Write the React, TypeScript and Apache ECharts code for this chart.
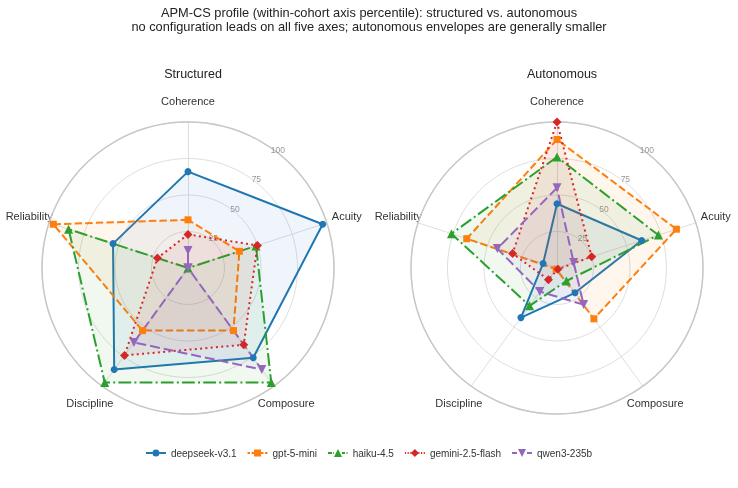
import React, { useEffect, useRef } from "react";
import * as echarts from "echarts";

const axesClockwise = ["Coherence", "Acuity", "Composure", "Discipline", "Reliability"];
const radialTicks = [25, 50, 75, 100];
const models = ["deepseek-v3.1", "gpt-5-mini", "haiku-4.5", "gemini-2.5-flash", "qwen3-235b"];
const panelTitles = ["Structured", "Autonomous"];

// values in clockwise axis order: Coherence, Acuity, Composure, Discipline, Reliability
const structuredDeepseek = [66, 97, 76, 86, 54];
const structuredGpt = [33, 37, 53, 53, 97];
const structuredHaiku = [0, 49, 97, 97, 86];
const structuredGemini = [23, 50, 65, 74, 22];
const structuredQwen = [12, 0, 86, 63, 0];

const autonomousDeepseek = [44, 61, 21, 42, 10];
const autonomousGpt = [88, 86, 43, 1, 65];
const autonomousHaiku = [76, 73, 11, 32, 76];
const autonomousGemini = [100, 25, 1, 10, 32];
const autonomousQwen = [55, 12, 31, 20, 43];

const structured = [structuredDeepseek, structuredGpt, structuredHaiku, structuredGemini, structuredQwen];
const autonomous = [autonomousDeepseek, autonomousGpt, autonomousHaiku, autonomousGemini, autonomousQwen];

const colors = ["#1f77b4", "#ff7f0e", "#2ca02c", "#d62728", "#9467bd"];
const dashes: any[] = ["solid", [7.4, 3.2], [12.8, 3.2, 2, 3.2], [2, 3.3], [10, 4]];
const symbols = ["circle", "rect", "triangle", "diamond", "path://M0,0 L10,0 L5,9 Z"];
const symbolSizes = [7, 7, 9, 9, 9];

// legend icons (20 x 8 box)
const seg = (a: number, b: number) => `M${a} 3.1 H${b} V4.9 H${a} Z `;
const legendMarkers = [
  "M6.5 4 A3.5 3.5 0 1 0 13.5 4 A3.5 3.5 0 1 0 6.5 4 Z ",
  "M6.5 0.5 H13.5 V7.5 H6.5 Z ",
  "M10 0 L14 8 L6 8 Z ",
  "M10 0 L14 4 L10 8 L6 4 Z ",
  "M6 0 L14 0 L10 8 Z ",
];
const legendLines = [
  seg(0, 6.5) + seg(13.5, 20),
  seg(0, 2.5) + seg(4, 6.5) + seg(13.5, 16) + seg(17.5, 20),
  seg(0, 4) + seg(5, 5.8) + seg(14, 17) + seg(18.5, 19.5),
  seg(0, 1.2) + seg(2.7, 3.9) + seg(5.4, 6.3) + seg(13.7, 14.6) + seg(16.1, 17.3) + seg(18.8, 20),
  seg(0, 5) + seg(15, 20),
];

const centers = [[188, 268], [557, 268]];
const R = 146;

// ECharts radar lays indicators counterclockwise; reorder to get clockwise layout
const ccwOrder = [0, 4, 3, 2, 1];

export default function App() {
  const ref = useRef<HTMLDivElement>(null);
  useEffect(() => {
    const chart = echarts.init(ref.current!, null, { renderer: "svg" });
    const font = "'Liberation Sans', Arial, sans-serif";
    const series: any[] = [];
    [structured, autonomous].forEach((panel, p) => {
      panel.forEach((vals, i) => {
        series.push({
          type: "radar",
          radarIndex: p,
          name: models[i],
          symbol: symbols[i],
          symbolSize: symbolSizes[i],
          lineStyle: { color: colors[i], width: 2, type: dashes[i] },
          itemStyle: { color: colors[i] },
          areaStyle: { color: colors[i], opacity: 0.07 },
          z: 3,
          data: [{ name: models[i], value: ccwOrder.map((k) => vals[k]) }],
        });
      });
    });
    chart.setOption({
      animation: false,
      textStyle: { fontFamily: font },
      title: [
        {
          text: "APM-CS profile (within-cohort axis percentile): structured vs. autonomous\nno configuration leads on all five axes; autonomous envelopes are generally smaller",
          left: "center",
          top: 0,
          textStyle: { fontSize: 12.8, fontWeight: "normal", color: "#222", lineHeight: 14, fontFamily: font },
        },
        ...panelTitles.map((t, p) => ({
          text: t,
          left: centers[p][0],
          top: 62,
          textAlign: "center",
          textStyle: { fontSize: 12.5, fontWeight: "normal", color: "#222", fontFamily: font },
        })),
      ],
      legend: {
        top: 443,
        left: "center",
        itemWidth: 20,
        itemHeight: 8,
        itemGap: 11,
        textStyle: { fontSize: 10, color: "#333", fontFamily: font },
        data: models.map((m, i) => ({ name: m, icon: "path://" + legendLines[i] + legendMarkers[i] })),
      },
      radar: centers.map((c) => ({
        center: c,
        radius: R,
        startAngle: 90,
        shape: "circle",
        splitNumber: 4,
        nameGap: 21,
        indicator: ccwOrder.map((k) => ({ name: axesClockwise[k], min: 0, max: 100 })),
        axisName: { color: "#333", fontSize: 11, fontFamily: font, align: "center", verticalAlign: "middle" },
        splitLine: { lineStyle: { color: "#dedede", width: 1 } },
        splitArea: { show: false },
        axisLine: { lineStyle: { color: "#dedede", width: 1 } },
        axisTick: { show: false },
        axisLabel: { show: false },
      })),
      polar: centers.map((c) => ({ center: c, radius: R })),
      angleAxis: centers.map((c, p) => ({
        polarIndex: p,
        type: "value",
        min: 0,
        max: 360,
        startAngle: 54,
        axisLine: { show: true, lineStyle: { color: "#c8c8c8", width: 1.5 } },
        axisTick: { show: false },
        axisLabel: { show: false },
        splitLine: { show: false },
        z: 1,
      })),
      radiusAxis: centers.map((c, p) => ({
        polarIndex: p,
        type: "value",
        min: 0,
        max: 100,
        interval: 25,
        axisLine: { show: false },
        axisTick: { show: false },
        splitLine: { show: false },
        axisLabel: {
          color: "#999",
          fontSize: 8.5,
          fontFamily: font,
          margin: 0,
          align: "center",
          verticalAlign: "middle",
          padding: [0, 0, 9, 8],
          formatter: (v: number) => (radialTicks.indexOf(v) >= 0 ? String(v) : ""),
        },
        z: 1,
      })),
      series,
    });
    return () => chart.dispose();
  }, []);
  return <div ref={ref} style={{ position: "fixed", left: 0, top: 0, width: 738, height: 488 }} />;
}
